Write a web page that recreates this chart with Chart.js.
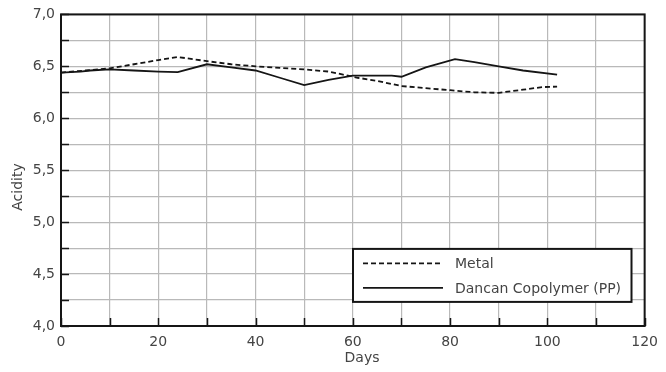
<!DOCTYPE html>
<html>
<head>
<meta charset="utf-8">
<script src="https://cdn.jsdelivr.net/npm/chart.js@4/dist/chart.umd.min.js"></script>
<style>
  html, body { margin: 0; padding: 0; background: #ffffff; }
  #wrap { width: 666px; height: 372px; position: relative; }
</style>
</head>
<body>
<div id="wrap"><canvas id="c" width="666" height="372"></canvas></div>
<script>
// ---- data ----
const metalLabel = 'Metal';
const metalDays    = [0, 5, 10, 15, 20, 24, 30, 35, 40, 45, 50, 55, 58, 61, 65, 70, 75, 80, 85, 90, 95, 99, 102];
const metalAcidity = [6.44, 6.46, 6.48, 6.52, 6.56, 6.59, 6.55, 6.52, 6.50, 6.485, 6.47, 6.45, 6.42, 6.39, 6.36, 6.31, 6.29, 6.27, 6.25, 6.245, 6.275, 6.30, 6.305];

const copolymerLabel = 'Dancan Copolymer (PP)';
const copolymerDays    = [0, 4, 6, 10, 15, 20, 24, 30, 35, 40, 45, 50, 55, 60, 68, 70, 75, 81, 85, 90, 95, 102];
const copolymerAcidity = [6.44, 6.45, 6.46, 6.47, 6.46, 6.45, 6.445, 6.52, 6.49, 6.46, 6.39, 6.32, 6.37, 6.41, 6.41, 6.40, 6.49, 6.57, 6.54, 6.50, 6.46, 6.42];

const xTitle = 'Days';
const yTitle = 'Acidity';
const xMin = 0, xMax = 120, xGridStep = 10, xLabelStep = 20;
const yMin = 4, yMax = 7, yGridStep = 0.25, yLabelStep = 0.5;

// ---- styles ----
const FONT = 'DejaVu Sans';
const TEXT = '#444444';
const GRID = '#b9b9b9';
const INK = '#151515';

function toPoints(xs, ys) { return xs.map((d, i) => ({ x: d, y: ys[i] })); }

const framePlugin = {
  id: 'framePlugin',
  beforeDatasetsDraw(chart) {
    const { ctx, chartArea: a, scales: { x, y } } = chart;
    ctx.save();
    ctx.strokeStyle = INK;
    ctx.lineWidth = 1.5;
    ctx.beginPath();
    y.ticks.forEach(t => {
      const py = Math.round(y.getPixelForValue(t.value)) + 0.5;
      ctx.moveTo(a.left, py); ctx.lineTo(a.left + 8, py);
    });
    x.ticks.forEach(t => {
      const px = Math.round(x.getPixelForValue(t.value)) + 0.5;
      ctx.moveTo(px, a.bottom); ctx.lineTo(px, a.bottom - 8);
    });
    ctx.stroke();
    ctx.lineWidth = 2;
    ctx.strokeStyle = INK;
    ctx.strokeRect(a.left, a.top, a.right - a.left, a.bottom - a.top);
    ctx.restore();
  },
  afterDatasetsDraw(chart) {
    const { ctx, chartArea: a } = chart;
    ctx.save();
    // legend box
    const bx = a.left + 292, by = a.top + 234.5, bw = 278.5, bh = 53;
    ctx.fillStyle = '#ffffff';
    ctx.fillRect(bx, by, bw, bh);
    ctx.strokeStyle = INK;
    ctx.lineWidth = 2;
    ctx.strokeRect(bx, by, bw, bh);
    const ds = chart.data.datasets;
    const rows = [by + 14.5, by + 39];
    ds.forEach((d, i) => {
      ctx.beginPath();
      ctx.setLineDash(d.borderDash || []);
      ctx.strokeStyle = d.borderColor;
      ctx.lineWidth = d.borderWidth;
      ctx.moveTo(bx + 10, rows[i]);
      ctx.lineTo(bx + 90, rows[i]);
      ctx.stroke();
      ctx.setLineDash([]);
      ctx.fillStyle = TEXT;
      ctx.font = '14px "' + FONT + '"';
      ctx.textBaseline = 'middle';
      ctx.textAlign = 'left';
      ctx.fillText(d.label, bx + 102, rows[i] + 1);
    });
    // axis titles
    ctx.fillStyle = TEXT;
    ctx.font = '14px "' + FONT + '"';
    ctx.textAlign = 'center';
    ctx.textBaseline = 'middle';
    ctx.fillText(xTitle, 362, 358);
    ctx.translate(18, 187);
    ctx.rotate(-Math.PI / 2);
    ctx.fillText(yTitle, 0, 0);
    ctx.restore();
  }
};

new Chart(document.getElementById('c'), {
  type: 'line',
  data: {
    datasets: [
      {
        label: metalLabel,
        data: toPoints(metalDays, metalAcidity),
        borderColor: INK,
        borderWidth: 1.8,
        borderDash: [5, 3],
        pointRadius: 0,
        tension: 0,
        fill: false
      },
      {
        label: copolymerLabel,
        data: toPoints(copolymerDays, copolymerAcidity),
        borderColor: INK,
        borderWidth: 1.8,
        pointRadius: 0,
        tension: 0,
        fill: false
      }
    ]
  },
  options: {
    responsive: false,
    animation: false,
    devicePixelRatio: 1,
    layout: { padding: { top: 14, right: 15, left: 0, bottom: 0 } },
    plugins: { legend: { display: false }, tooltip: { enabled: false } },
    scales: {
      x: {
        type: 'linear',
        min: xMin, max: xMax,
        afterFit(s) { s.height = 46; },
        grid: { color: GRID, lineWidth: 1.2, drawTicks: false },
        border: { display: false },
        ticks: {
          stepSize: xGridStep,
          autoSkip: false,
          maxRotation: 0,
          padding: 8,
          color: TEXT,
          font: { family: FONT, size: 14 },
          callback: v => (Math.abs(v % xLabelStep) < 1e-9 ? String(v) : '')
        }
      },
      y: {
        type: 'linear',
        min: yMin, max: yMax,
        afterFit(s) { s.width = 61; },
        grid: { color: GRID, lineWidth: 1.2, drawTicks: false },
        border: { display: false },
        ticks: {
          stepSize: yGridStep,
          autoSkip: false,
          padding: 6,
          color: TEXT,
          font: { family: FONT, size: 14 },
          callback: v => {
            const r = v / yLabelStep;
            return Math.abs(r - Math.round(r)) < 1e-9 ? v.toFixed(1).replace('.', ',') : '';
          }
        }
      }
    }
  },
  plugins: [framePlugin]
});
</script>
</body>
</html>
